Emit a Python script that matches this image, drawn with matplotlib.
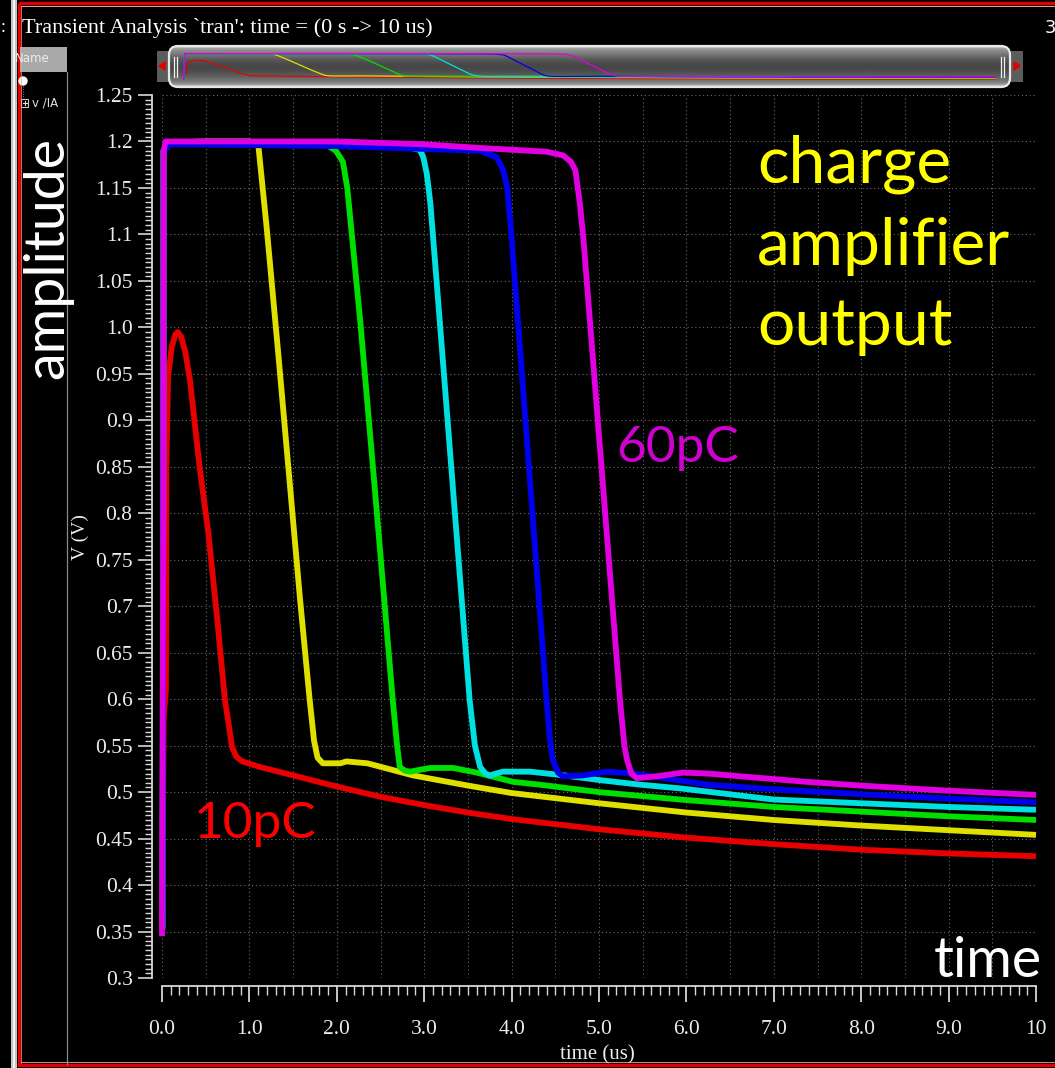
import numpy as np
import matplotlib
matplotlib.use("Agg")
import matplotlib.pyplot as plt
from matplotlib.patches import Rectangle, FancyBboxPatch, Circle, Polygon
from matplotlib.ticker import MultipleLocator, FixedLocator, FixedFormatter

W, H = 1055, 1068

# ---- transient output of the charge amplifier, time in us, voltage in V ----
t_10pC = [0.0, 0.02, 0.045, 0.05, 0.07, 0.11, 0.15, 0.18, 0.22, 0.27, 0.32, 0.43,
          0.53, 0.63, 0.72, 0.76, 0.80, 0.85, 0.92, 1.12, 1.5, 2.0, 2.5, 3.0, 3.5,
          4.0, 5.0, 6.0, 7.0, 8.0, 9.0, 10.0]
v_10pC = [0.35, 0.58, 0.61, 0.85, 0.947, 0.978, 0.992, 0.995, 0.99, 0.972, 0.943,
          0.85, 0.779, 0.688, 0.599, 0.575, 0.549, 0.538, 0.533, 0.527, 0.518,
          0.506, 0.495, 0.486, 0.478, 0.471, 0.460, 0.451, 0.444, 0.438, 0.434,
          0.431]

t_20pC = [0.0, 0.008, 0.018, 0.1, 0.5, 1.0, 1.1, 1.2, 1.33, 1.58, 1.69, 1.74,
          1.78, 1.84, 2.04, 2.11, 2.35, 2.87, 3.5, 4.0, 5.0, 6.0, 7.0, 8.0, 9.0, 10.0]
v_20pC = [0.35, 0.36, 1.19, 1.199, 1.2, 1.2, 1.198, 1.105, 0.972, 0.707, 0.599,
          0.555, 0.537, 0.531, 0.531, 0.533, 0.531, 0.518, 0.507, 0.499, 0.488,
          0.478, 0.470, 0.464, 0.459, 0.454]

t_30pC = [0.0, 0.008, 0.018, 0.1, 1.0, 1.89, 1.99, 2.07, 2.12, 2.27, 2.45, 2.64,
          2.69, 2.72, 2.78, 2.84, 2.95, 3.07, 3.33, 3.6, 4.02, 4.32, 5.0, 5.93,
          7.0, 8.0, 9.0, 10.0]
v_30pC = [0.35, 0.36, 1.19, 1.198, 1.199, 1.196, 1.19, 1.178, 1.15, 1.005, 0.81,
          0.599, 0.55, 0.527, 0.523, 0.522, 0.524, 0.526, 0.526, 0.521, 0.511,
          0.508, 0.500, 0.492, 0.484, 0.479, 0.474, 0.470]

t_40pC = [0.0, 0.008, 0.018, 0.1, 1.0, 2.0, 2.8, 2.95, 2.99, 3.03, 3.07, 3.15, 3.52,
          3.58, 3.64, 3.70, 3.75, 3.9, 4.21, 4.6, 5.0, 5.47, 5.93, 7.0, 8.0, 9.0, 10.0]
v_40pC = [0.35, 0.36, 1.19, 1.198, 1.198, 1.196, 1.194, 1.191, 1.183, 1.165,
          1.134, 1.04, 0.599, 0.55, 0.527, 0.52, 0.518, 0.522, 0.522, 0.518,
          0.513, 0.508, 0.504, 0.492, 0.488, 0.484, 0.481]

t_50pC = [0.0, 0.008, 0.018, 0.1, 2.0, 3.0, 3.64, 3.83, 3.9, 3.95, 4.0, 4.40, 4.44,
          4.47, 4.53, 4.59, 4.82, 5.09, 5.39, 6.24, 7.0, 8.14, 9.0, 10.0]
v_50pC = [0.35, 0.36, 1.19, 1.197, 1.195, 1.192, 1.19, 1.183, 1.17, 1.151,
          1.097, 0.599, 0.555, 0.535, 0.521, 0.517, 0.518, 0.522, 0.520, 0.508,
          0.503, 0.497, 0.493, 0.489]

t_60pC = [0.0, 0.015, 0.02, 0.04, 1.0, 2.0, 3.0, 3.64, 4.40, 4.59, 4.68, 4.73,
          4.78, 4.82, 5.24, 5.29, 5.32, 5.37, 5.43, 5.66, 5.96, 6.24, 7.38, 8.0,
          8.9, 10.0]
v_60pC = [0.345, 0.80, 1.19, 1.2, 1.2, 1.2, 1.197, 1.193, 1.189, 1.185, 1.178,
          1.169, 1.134, 1.097, 0.599, 0.55, 0.535, 0.52, 0.515, 0.517, 0.521,
          0.520, 0.511, 0.507, 0.502, 0.497]

series = [
    (t_10pC, v_10pC, "#e60000"),
    (t_20pC, v_20pC, "#e0e000"),
    (t_30pC, v_30pC, "#00e000"),
    (t_40pC, v_40pC, "#00e0e0"),
    (t_50pC, v_50pC, "#0000ee"),
    (t_60pC, v_60pC, "#e000e0"),
]

y_ticks = [1.25, 1.2, 1.15, 1.1, 1.05, 1.0, 0.95, 0.9, 0.85, 0.8, 0.75, 0.7,
           0.65, 0.6, 0.55, 0.5, 0.45, 0.4, 0.35, 0.3]
y_labels = ["1.25", "1.2", "1.15", "1.1", "1.05", "1.0", "0.95", "0.9", "0.85",
            "0.8", "0.75", "0.7", "0.65", "0.6", "0.55", "0.5", "0.45", "0.4",
            "0.35", "0.3"]
x_ticks = [0, 1, 2, 3, 4, 5, 6, 7, 8, 9, 10]
x_labels = ["0.0", "1.0", "2.0", "3.0", "4.0", "5.0", "6.0", "7.0", "8.0",
            "9.0", "10"]

AX_C = "#d8d8d8"
SERIF = "Liberation Serif"
SANS = "Lato"


def px(x):
    return x / W


def py(y):
    return 1 - y / H


fig = plt.figure(figsize=(W / 100, H / 100), dpi=100, facecolor="black")

# ---- window chrome drawn in pixel space ----
bg = fig.add_axes([0, 0, 1, 1])
bg.set_xlim(0, W)
bg.set_ylim(H, 0)
bg.axis("off")
bg.set_facecolor("black")

bg.add_patch(Rectangle((11, 0), 6, H, color="#c4c4c4", lw=0))
bg.add_patch(Rectangle((13, 0), 2, H, color="#f4f4f4", lw=0))
bg.add_patch(Rectangle((19, 3), W + 10, H - 6, fill=False, ec="#e00000", lw=2.4))
bg.plot([21, W + 5], [6, 6], color="#f0a0a0", lw=0.7)
bg.plot([21, 21], [6, H - 5], color="#f0a0a0", lw=0.5)
bg.plot([21, W + 5], [H - 6, H - 6], color="#f0a0a0", lw=0.6)
bg.text(1, 28, ":", color="white", fontsize=13, family=SERIF, va="center")
bg.text(1045, 28, "3", color="white", fontsize=13, family="DejaVu Sans", va="center")

# signal list panel
name_box = Rectangle((20, 47), 47, 25, color="#a9a9a9", lw=0)
bg.add_patch(name_box)
name_txt = bg.text(15, 58, "Name", color="#ececec", fontsize=8.5,
                   family="DejaVu Sans", va="center")
name_txt.set_clip_path(name_box)
bg.add_patch(Circle((23, 81), 4, color="white"))
bg.plot([23, 23], [86, 98], color="#909090", lw=0.7, ls=(0, (1, 1.5)))
bg.add_patch(Rectangle((21, 99), 7, 8, fill=False, ec="#c8c8c8", lw=0.8))
bg.plot([22.5, 26.5], [103, 103], color="#e0e0e0", lw=0.8)
bg.plot([24.5, 24.5], [101, 105], color="#e0e0e0", lw=0.8)
bg.text(32, 103.5, "v /IA", color="#e0e0e0", fontsize=8.5, family="DejaVu Sans",
        va="center")
bg.plot([67, 67], [72, H - 4], color="#8a8a8a", lw=0.9)

# overview scroll bar
bar_x0, bar_x1, bar_y0, bar_y1 = 168, 1011, 46, 87
bg.add_patch(Rectangle((157, 51), 14, 31, color="#5c5c5c", lw=0))
bg.add_patch(Rectangle((1008, 51), 15, 31, color="#5c5c5c", lw=0))
bg.add_patch(Polygon([[159, 66], [165, 62], [165, 70]], color="#e00000"))
bg.add_patch(Polygon([[1020, 66], [1014, 62], [1014, 70]], color="#e00000"))
shade = np.array([0.80, 0.62, 0.56, 0.52, 0.48, 0.44, 0.40, 0.36, 0.33, 0.31,
                  0.29, 0.28, 0.28, 0.29, 0.30, 0.32, 0.34, 0.37, 0.40, 0.43,
                  0.47, 0.52, 0.62, 0.8])
grad = np.repeat(shade[:, None], 2, axis=1)
body = FancyBboxPatch((bar_x0 + 4, bar_y0 + 3), bar_x1 - bar_x0 - 8,
                      bar_y1 - bar_y0 - 6, boxstyle="round,pad=3,rounding_size=9",
                      fc="none", ec="#e8e8e8", lw=1.6, zorder=3)
bg.add_patch(body)
im = bg.imshow(grad, cmap="gray", vmin=0, vmax=1, aspect="auto",
               extent=(bar_x0, bar_x1, bar_y1, bar_y0), interpolation="bilinear",
               zorder=2)
im.set_clip_path(body)
for gx in (174, 177, 1001, 1004):
    bg.plot([gx, gx], [57, 77], color="#f0f0f0", lw=0.9, zorder=4)

# overview traces
ov = fig.add_axes([px(183), py(80), px(996 - 183), (80 - 51) / H])
ov.set_xlim(0, 10)
ov.set_ylim(0.411, 1.274)
ov.axis("off")
ov.patch.set_alpha(0)
for t, v, c in series:
    ov.plot(t, v, color=c, lw=0.9)

# ---- main waveform axes ----
ax = fig.add_axes([px(162), py(978), px(1036 - 162), (978 - 95) / H])
ax.set_facecolor("black")
ax.set_xlim(0, 10)
ax.set_ylim(0.3, 1.25)

for gx in np.arange(0, 10.01, 0.5):
    ax.axvline(gx, color="#6a6a6a", lw=0.8, ls=(0, (1, 2.5)), zorder=1)
for gy in np.arange(0.3, 1.2501, 0.05):
    ax.axhline(gy, color="#6a6a6a", lw=0.8, ls=(0, (1, 2.5)), zorder=1)

for t, v, c in series:
    ax.plot(t, v, color=c, lw=4.2, solid_capstyle="butt", solid_joinstyle="round",
            clip_on=False, zorder=3)

for side in ("top", "right"):
    ax.spines[side].set_visible(False)
ax.spines["left"].set_position(("outward", 7.2))
ax.spines["bottom"].set_position(("outward", 5.8))
for side in ("left", "bottom"):
    ax.spines[side].set_color(AX_C)
    ax.spines[side].set_linewidth(1.3)

ax.yaxis.set_major_locator(FixedLocator(y_ticks))
ax.yaxis.set_major_formatter(FixedFormatter(y_labels))
ax.yaxis.set_minor_locator(MultipleLocator(0.005))
ax.xaxis.set_major_locator(FixedLocator(x_ticks))
ax.xaxis.set_major_formatter(FixedFormatter(x_labels))
ax.xaxis.set_minor_locator(MultipleLocator(0.1))

ax.tick_params(axis="y", which="major", length=10, width=1.2, colors=AX_C,
               labelcolor="#ececec", labelsize=15.5, pad=4)
ax.tick_params(axis="y", which="minor", length=5, width=1.0, colors=AX_C)
ax.tick_params(axis="x", which="major", length=11.5, width=1.3, colors=AX_C,
               labelcolor="#ececec", labelsize=15.5, pad=13)
ax.tick_params(axis="x", which="minor", length=6.5, width=1.0, colors=AX_C)
for lab in ax.get_xticklabels() + ax.get_yticklabels():
    lab.set_family(SERIF)

# axis captions
fig.text(px(597), py(1055), "time (us)", color="#ececec", fontsize=15,
         family=SERIF, ha="center", va="center")
fig.text(px(80), py(537), "V (V)", color="#ececec", fontsize=14, family=SERIF,
         ha="center", va="center", rotation=90)
fig.text(px(22), py(28), "Transient Analysis `tran': time = (0 s -> 10 us)",
         color="white", fontsize=16, family=SERIF, va="center")

# annotations
for txt, yb in (("charge", 182), ("amplifier", 265), ("output", 345)):
    fig.text(px(757), py(yb), txt, color="#ffff00", fontsize=47.5, family=SANS,
             va="baseline", ha="left")
fig.text(px(616), py(462), "60pC", color="#d000d0", fontsize=37, family=SANS,
         va="baseline", ha="left")
fig.text(px(194), py(838), "10pC", color="#ff0000", fontsize=37, family=SANS,
         va="baseline", ha="left")
fig.text(px(934), py(977), "time", color="white", fontsize=40, family=SANS,
         va="baseline", ha="left")
fig.text(px(48), py(258), "amplitude", color="white", fontsize=40, family=SANS,
         va="center", ha="center", rotation=90)

fig.savefig("out.png", dpi=100, facecolor="black")
